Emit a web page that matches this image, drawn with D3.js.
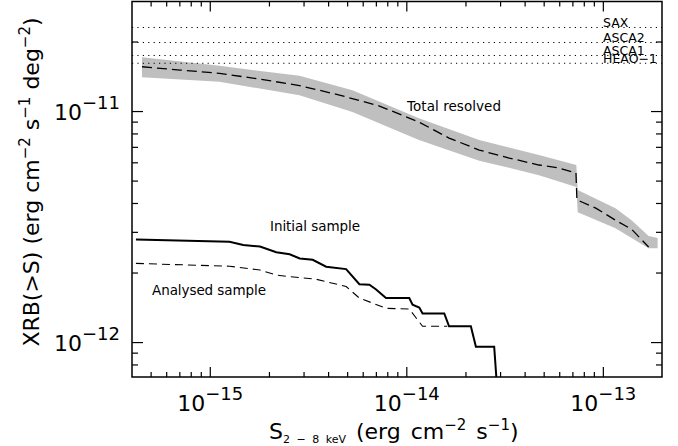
<!DOCTYPE html>
<html><head><meta charset="utf-8">
<script src="https://cdn.jsdelivr.net/npm/d3@7"></script>
<style>
body{margin:0;background:#fff;}
text{font-family:"DejaVu Sans",sans-serif;fill:#000;}
</style>
</head><body>
<svg id="chart" width="678" height="446"></svg>
<script>
// ---------- data ----------
const xMajorTicks = [1e-15, 1e-14, 1e-13];
const xMajorExps  = ["\u221215", "\u221214", "\u221213"];
const yMajorTicks = [1e-12, 1e-11];
const yMajorExps  = ["\u221212", "\u221211"];

const refNames  = ["SAX", "ASCA2", "ASCA1", "HEAO\u22121"];
const refValues = [2.30e-11, 1.98e-11, 1.74e-11, 1.61e-11];

// Total resolved (dashed line)
const totalFlux = [4.52e-16, 7.05e-16, 1.12e-15, 1.79e-15, 2.86e-15, 4.57e-15, 7.30e-15, 1.16e-14, 1.65e-14, 2.35e-14, 3.34e-14, 4.73e-14, 5.98e-14, 7.30e-14, 7.38e-14, 7.82e-14, 9.21e-14, 1.16e-13, 1.40e-13, 1.71e-13];
const totalXRB  = [1.555e-11, 1.505e-11, 1.456e-11, 1.376e-11, 1.289e-11, 1.173e-11, 1.051e-11, 8.96e-12, 7.64e-12, 6.78e-12, 6.26e-12, 5.84e-12, 5.67e-12, 5.39e-12, 4.12e-12, 4.04e-12, 3.80e-12, 3.37e-12, 3.08e-12, 2.58e-12];

// Total resolved uncertainty band
const bandFlux = [4.52e-16, 1.12e-15, 2.86e-15, 5.32e-15, 1.16e-14, 2.35e-14, 4.73e-14, 7.33e-14, 7.45e-14, 1.16e-13, 1.40e-13, 1.71e-13, 1.90e-13];
const bandHi   = [1.71e-11, 1.57e-11, 1.42e-11, 1.23e-11, 9.3e-12, 7.5e-12, 6.45e-12, 5.84e-12, 4.55e-12, 3.80e-12, 3.37e-12, 2.88e-12, 2.82e-12];
const bandLo   = [1.40e-11, 1.34e-11, 1.17e-11, 9.9e-12, 7.5e-12, 6.1e-12, 5.28e-12, 4.69e-12, 3.65e-12, 3.11e-12, 2.82e-12, 2.55e-12, 2.55e-12];

// Initial sample (solid)
const initFlux = [4.21e-16, 1.26e-15, 1.48e-15, 1.80e-15, 2.18e-15, 2.55e-15, 2.87e-15, 3.34e-15, 3.91e-15, 4.94e-15, 5.77e-15, 6.49e-15, 7.02e-15, 7.88e-15, 1.035e-14, 1.076e-14, 1.164e-14, 1.21e-14, 1.56e-14, 1.65e-14, 2.13e-14, 2.26e-14, 2.80e-14, 2.91e-14];
const initXRB  = [2.78e-12, 2.72e-12, 2.63e-12, 2.59e-12, 2.45e-12, 2.40e-12, 2.30e-12, 2.27e-12, 2.12e-12, 2.07e-12, 1.78e-12, 1.77e-12, 1.69e-12, 1.55e-12, 1.55e-12, 1.45e-12, 1.41e-12, 1.33e-12, 1.33e-12, 1.17e-12, 1.17e-12, 9.54e-13, 9.54e-13, 6.0e-13];

// Analysed sample (dashed)
const anaFlux = [4.21e-16, 1.26e-15, 1.80e-15, 2.18e-15, 2.55e-15, 3.48e-15, 4.94e-15, 5.77e-15, 6.8e-15, 7.88e-15, 1.035e-14, 1.21e-14, 1.615e-14];
const anaXRB  = [2.19e-12, 2.13e-12, 2.05e-12, 1.95e-12, 1.92e-12, 1.87e-12, 1.74e-12, 1.55e-12, 1.47e-12, 1.40e-12, 1.39e-12, 1.17e-12, 1.17e-12];

// ---------- drawing ----------
const L = 132, R = 662, T = 1.5, B = 377;
const svg = d3.select("#chart");
const x = d3.scaleLog().domain([4.02e-16, 2.0e-13]).range([L, R]);
const y = d3.scaleLog().domain([7.06e-13, 2.98e-11]).range([B, T]);

function minors(lo, hi) {
  const out = [];
  for (let e = -17; e <= -10; e++) for (let m = 2; m <= 9; m++) {
    const v = m * Math.pow(10, e);
    if (v > lo && v < hi) out.push(v);
  }
  return out;
}
const xMinor = minors(4.02e-16, 2.0e-13);
const yMinor = minors(7.06e-13, 2.98e-11);

svg.append("defs").append("clipPath").attr("id", "pc")
  .append("rect").attr("x", L).attr("y", T).attr("width", R - L).attr("height", B - T);

const plot = svg.append("g").attr("clip-path", "url(#pc)");

// band
const area = d3.area().x((d, i) => x(bandFlux[i])).y0((d, i) => y(bandLo[i])).y1((d, i) => y(bandHi[i]));
plot.append("path").datum(bandFlux).attr("d", area).attr("fill", "#bfbfbf");

// reference dotted lines
plot.selectAll("line.ref").data(refValues).join("line")
  .attr("x1", L).attr("x2", R).attr("y1", d => y(d)).attr("y2", d => y(d))
  .attr("stroke", "#000").attr("stroke-width", 1).attr("stroke-dasharray", "1.2,4.2");

const line = (xs, ys) => d3.line().x((d, i) => x(xs[i])).y((d, i) => y(ys[i]))(xs);

plot.append("path").attr("d", line(totalFlux, totalXRB)).attr("fill", "none")
  .attr("stroke", "#000").attr("stroke-width", 1.3).attr("stroke-dasharray", "10,5");
plot.append("path").attr("d", line(initFlux, initXRB)).attr("fill", "none")
  .attr("stroke", "#000").attr("stroke-width", 2);
plot.append("path").attr("d", line(anaFlux, anaXRB)).attr("fill", "none")
  .attr("stroke", "#000").attr("stroke-width", 1.1).attr("stroke-dasharray", "8,5");

// reference labels
svg.selectAll("text.ref").data(refNames).join("text")
  .attr("x", 603).attr("y", (d, i) => y(refValues[i]) - 0.5)
  .attr("font-size", 12.5).text(d => d);

// curve labels
svg.append("text").attr("x", 407).attr("y", 111).attr("font-size", 13.5)
  .attr("textLength", 94).attr("lengthAdjust", "spacing").text("Total resolved");
svg.append("text").attr("x", 270).attr("y", 231).attr("font-size", 13.5)
  .attr("textLength", 90).attr("lengthAdjust", "spacing").text("Initial sample");
svg.append("text").attr("x", 152).attr("y", 295).attr("font-size", 13.5)
  .attr("textLength", 114).attr("lengthAdjust", "spacing").text("Analysed sample");

// axes (inward ticks)
function axisPair(maker, scale, major, minor, transform, majLen, minLen) {
  const gM = svg.append("g").attr("transform", transform)
    .call(maker(scale).tickValues(major).tickSizeInner(-majLen).tickSizeOuter(0).tickFormat(""));
  const gm = svg.append("g").attr("transform", transform)
    .call(maker(scale).tickValues(minor).tickSizeInner(-minLen).tickSizeOuter(0).tickFormat(""));
  [gM, gm].forEach(g => { g.select(".domain").remove(); g.selectAll("line").attr("stroke", "#000").attr("stroke-width", 1.2); });
  return gM;
}
const gB = axisPair(d3.axisBottom, x, xMajorTicks, xMinor, `translate(0,${B})`, 10, 5);
axisPair(d3.axisTop, x, xMajorTicks, xMinor, `translate(0,${T})`, 10, 5);
const gL = axisPair(d3.axisLeft, y, yMajorTicks, yMinor, `translate(${L},0)`, 11, 6);
axisPair(d3.axisRight, y, yMajorTicks, yMinor, `translate(${R},0)`, 11, 6);

// tick labels
gB.selectAll(".tick text").each(function(d, i) {
  const t = d3.select(this).attr("y", 34).attr("dy", 0).attr("text-anchor", "middle")
    .attr("font-size", 22).attr("font-family", "DejaVu Sans").text(null);
  t.append("tspan").text("10");
  t.append("tspan").attr("dy", -11).attr("font-size", 18).text(xMajorExps[i]);
});
gL.selectAll(".tick text").each(function(d, i) {
  const t = d3.select(this).attr("x", -12).attr("dy", 0).attr("y", 8).attr("text-anchor", "end")
    .attr("font-size", 22).attr("font-family", "DejaVu Sans").text(null);
  t.append("tspan").text("10");
  t.append("tspan").attr("dy", -11).attr("font-size", 18).text(yMajorExps[i]);
});

// frame
svg.append("rect").attr("x", L).attr("y", T).attr("width", R - L).attr("height", B - T)
  .attr("fill", "none").attr("stroke", "#000").attr("stroke-width", 1.5);

// axis titles
const xt = svg.append("text").attr("x", 269).attr("y", 439).attr("font-size", 22).attr("word-spacing", 3);
xt.append("tspan").text("S");
xt.append("tspan").attr("dy", 4).attr("font-size", 11).text("2 \u2212 8 keV");
xt.append("tspan").attr("dy", -4).text(" (erg cm");
xt.append("tspan").attr("dy", -9).attr("font-size", 15).text("\u22122");
xt.append("tspan").attr("dy", 9).text(" s");
xt.append("tspan").attr("dy", -9).attr("font-size", 15).text("\u22121");
xt.append("tspan").attr("dy", 9).text(")");

const yt = svg.append("text").attr("transform", "translate(38.5,182) rotate(-90)")
  .attr("text-anchor", "middle").attr("font-size", 22);
yt.append("tspan").text("XRB(>S) (erg cm");
yt.append("tspan").attr("dy", -9).attr("font-size", 15).text("\u22122");
yt.append("tspan").attr("dy", 9).text(" s");
yt.append("tspan").attr("dy", -9).attr("font-size", 15).text("\u22121");
yt.append("tspan").attr("dy", 9).text(" deg");
yt.append("tspan").attr("dy", -9).attr("font-size", 15).text("\u22122");
yt.append("tspan").attr("dy", 9).text(")");
</script>
</body></html>
